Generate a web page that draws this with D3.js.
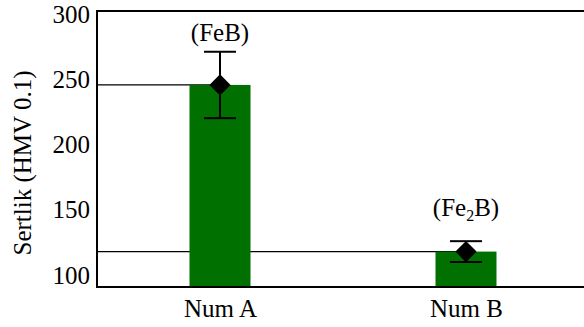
<!DOCTYPE html>
<html lang="en">
<head>
<meta charset="UTF-8">
<title>Sertlik</title>
<script src="https://cdn.jsdelivr.net/npm/d3@7"></script>
<style>
  body { margin: 0; background: #fff; }
  svg text { font-family: "Liberation Serif", "Times New Roman", serif; fill: #000; }
</style>
</head>
<body>
<svg id="chart" width="584" height="327"></svg>
<script>
const categories = ["Num A", "Num B"]
const means = [246, 118]
const errors = [25.5, 8]
const phases = [["(FeB)", ""], ["(Fe", "2", "B)"]]
const yTicks = [100, 150, 200, 250, 300]

const svg = d3.select('#chart')
const mLeft = 97, mTop = 11, mBottom = 287, mRight = 589

const y = d3.scaleLinear().domain([90.8, 302.8]).range([mBottom, mTop])
const x = d3.scalePoint().domain(categories).range([mLeft, mRight]).padding(0.5)
const barW = 61

// reference lines from the axis to each bar
svg.selectAll('line.ref')
    .data(categories)
    .join('line')
    .attr('class', 'ref')
    .attr('x1', mLeft)
    .attr('x2', d => x(d))
    .attr('y1', (d, i) => y(means[i]))
    .attr('y2', (d, i) => y(means[i]))
    .attr('stroke', '#000')
    .attr('stroke-width', 1.3)

// bars
svg.selectAll('rect.bar')
    .data(categories)
    .join('rect')
    .attr('class', 'bar')
    .attr('x', d => x(d) - barW / 2)
    .attr('width', barW)
    .attr('y', (d, i) => y(means[i]))
    .attr('height', (d, i) => mBottom - y(means[i]))
    .attr('fill', '#007000')

// frame lines
svg.append('line').attr('x1', mLeft).attr('x2', mRight).attr('y1', mTop).attr('y2', mTop)
    .attr('stroke', '#000').attr('stroke-width', 2)
svg.append('line').attr('x1', mLeft).attr('x2', mRight).attr('y1', mBottom).attr('y2', mBottom)
    .attr('stroke', '#000').attr('stroke-width', 2)
svg.append('line').attr('x1', mLeft).attr('x2', mLeft).attr('y1', mTop - 1).attr('y2', mBottom + 1)
    .attr('stroke', '#000').attr('stroke-width', 2)

// error bars
const eb = svg.selectAll('g.err')
    .data(categories)
    .join('g')
    .attr('class', 'err')
eb.append('line')
    .attr('x1', d => x(d)).attr('x2', d => x(d))
    .attr('y1', (d, i) => y(means[i] + errors[i]))
    .attr('y2', (d, i) => y(means[i] - errors[i]))
    .attr('stroke', '#000').attr('stroke-width', 2)
eb.selectAll('line.cap')
    .data((d, i) => [means[i] + errors[i], means[i] - errors[i]].map(v => ({ c: d, v })))
    .join('line')
    .attr('class', 'cap')
    .attr('x1', d => x(d.c) - 16).attr('x2', d => x(d.c) + 16)
    .attr('y1', d => y(d.v)).attr('y2', d => y(d.v))
    .attr('stroke', '#000').attr('stroke-width', 2)
eb.append('path')
    .attr('d', d3.symbol(d3.symbolSquare, 225))
    .attr('transform', (d, i) => `translate(${x(d)},${y(means[i])}) rotate(45)`)
    .attr('fill', '#000')

// phase labels
const labelGap = [11, 25]
phases.forEach((p, i) => {
    const t = svg.append('text')
        .attr('x', x(categories[i]))
        .attr('y', y(means[i] + errors[i]) - labelGap[i])
        .attr('text-anchor', 'middle')
        .style('font-size', '25px')
    if (p.length === 3) {
        t.append('tspan').text(p[0])
        t.append('tspan').text(p[1]).attr('dy', 5).style('font-size', '16px')
        t.append('tspan').text(p[2]).attr('dy', -5)
    } else {
        t.text(p[0])
    }
})

// y axis labels
const yAxis = d3.axisLeft(y).tickValues(yTicks).tickSize(0).tickPadding(7)
const gy = svg.append('g').attr('transform', `translate(${mLeft},0)`).call(yAxis)
gy.select('.domain').remove()
gy.selectAll('text').style('font-size', '25px').attr('font-family', null)

// x axis labels
const xAxis = d3.axisBottom(x).tickSize(0).tickPadding(12)
const gx = svg.append('g').attr('transform', `translate(0,${mBottom})`).call(xAxis)
gx.select('.domain').remove()
gx.selectAll('text').style('font-size', '25px').attr('font-family', null)

// y axis title
svg.append('text')
    .attr('transform', `translate(31,${(mTop + mBottom) / 2 + 14}) rotate(-90)`)
    .attr('text-anchor', 'middle')
    .style('font-size', '25px')
    .text('Sertlik (HMV 0.1)')
</script>
</body>
</html>
